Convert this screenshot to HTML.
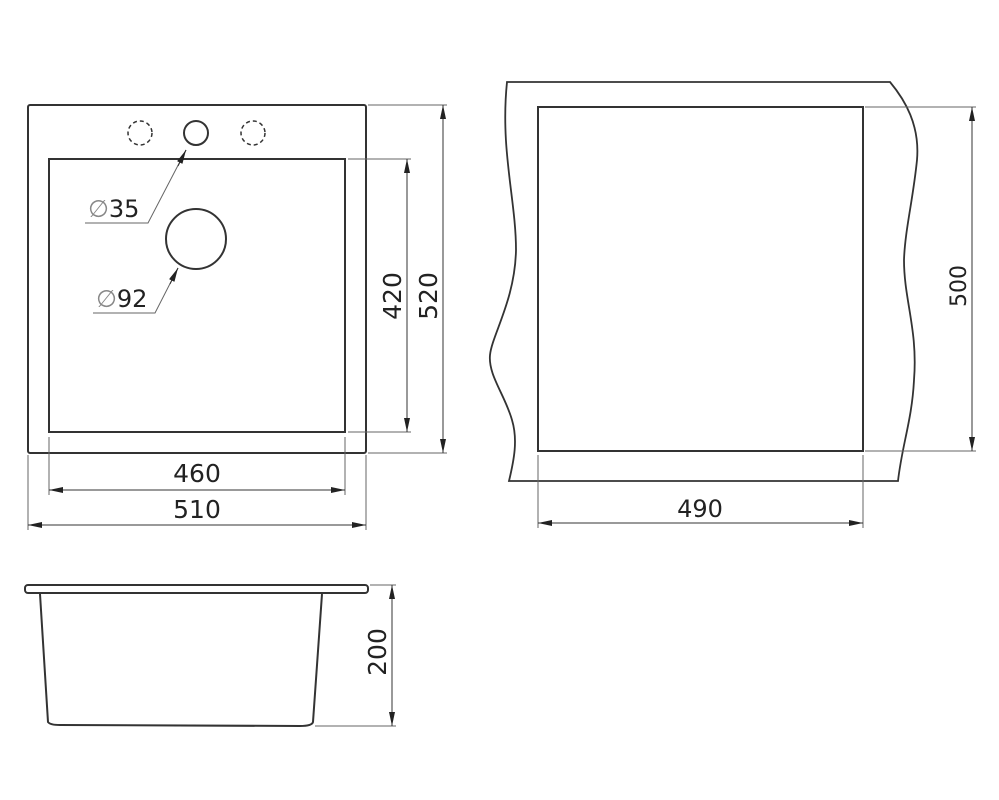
<!DOCTYPE html>
<html><head><style>body{margin:0;background:#fff}svg{display:block}</style></head><body>
<svg width="999" height="800" viewBox="0 0 999 800" xmlns="http://www.w3.org/2000/svg" font-family="'DejaVu Sans','Liberation Sans',sans-serif">
<defs>
<marker id="a" viewBox="0 0 14 6" refX="14" refY="3" markerWidth="14" markerHeight="6" orient="auto-start-reverse" markerUnits="userSpaceOnUse"><path d="M0,0 L14,3 L0,6 z" fill="#222"/></marker>
</defs>
<g fill="none" stroke="#333" stroke-width="2">
<rect x="28" y="105" width="338" height="348" rx="2"/>
<rect x="49" y="159" width="296" height="273"/>
<circle cx="196" cy="133" r="12"/>
<circle cx="196" cy="239" r="30"/>
<circle cx="140" cy="133" r="12" stroke-dasharray="4,3" stroke-width="1.5"/>
<circle cx="253" cy="133" r="12" stroke-dasharray="4,3" stroke-width="1.5"/>
<path d="M507,82 L890,82 C905,100 920,125 917,160 C913,200 905,230 904,260 C904,300 918,330 914,380 C912,420 902,445 898,481 L509,481 C514,460 518,440 512,420 C505,395 488,375 490,355 C492,335 515,300 516,250 C516,200 500,150 507,82 Z" stroke-width="1.8"/>
<rect x="538" y="107" width="325" height="344"/>
<rect x="25" y="585" width="343" height="8" rx="3"/>
<path d="M40,594 L48,722 Q50,725 60,725 L300,726 Q312,726 313,722 L322,594"/>
</g>
<g stroke="#666" stroke-width="1" fill="none">
<path d="M186,150 L148,223 L85,223"/>
<path d="M178,268 L155,313 L93,313"/>
<path d="M348,159 L411,159 M348,432 L411,432 M368,105 L447,105 M368,453 L447,453"/>
<path d="M49,437 L49,495 M345,437 L345,495 M28,455 L28,530 M366,455 L366,530"/>
<path d="M865,107 L976,107 M865,451 L976,451 M538,455 L538,528 M863,455 L863,528"/>
<path d="M370,585 L396,585 M315,726 L396,726"/>
</g>
<g stroke="#333" stroke-width="1" fill="none">
<line x1="186" y1="150" x2="178" y2="166" marker-start="url(#a)"/>
<line x1="178" y1="268" x2="170" y2="284" marker-start="url(#a)"/>
<line x1="407" y1="159" x2="407" y2="432" marker-start="url(#a)" marker-end="url(#a)"/>
<line x1="443" y1="105" x2="443" y2="453" marker-start="url(#a)" marker-end="url(#a)"/>
<line x1="49" y1="490" x2="345" y2="490" marker-start="url(#a)" marker-end="url(#a)"/>
<line x1="28" y1="525" x2="366" y2="525" marker-start="url(#a)" marker-end="url(#a)"/>
<line x1="972" y1="107" x2="972" y2="451" marker-start="url(#a)" marker-end="url(#a)"/>
<line x1="538" y1="523" x2="863" y2="523" marker-start="url(#a)" marker-end="url(#a)"/>
<line x1="392" y1="585" x2="392" y2="726" marker-start="url(#a)" marker-end="url(#a)"/>
</g>
<g fill="#222" font-size="25">
<text x="88" y="217" font-size="24"><tspan fill="#888">∅</tspan>35</text>
<text x="96" y="307" font-size="24"><tspan fill="#888">∅</tspan>92</text>
<text x="197" y="482" text-anchor="middle">460</text>
<text x="197" y="518" text-anchor="middle">510</text>
<text x="700" y="517" text-anchor="middle" font-size="24">490</text>
<text transform="translate(401,296) rotate(-90)" text-anchor="middle">420</text>
<text transform="translate(437,296) rotate(-90)" text-anchor="middle">520</text>
<text transform="translate(966,286) rotate(-90)" text-anchor="middle" font-size="22">500</text>
<text transform="translate(386,652) rotate(-90)" text-anchor="middle">200</text>
</g>
</svg>
</body></html>
